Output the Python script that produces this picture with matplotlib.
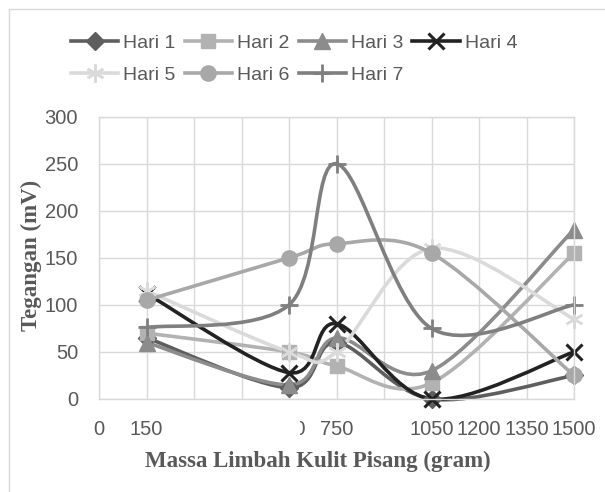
import matplotlib.pyplot as plt
from matplotlib.path import Path
from matplotlib.patches import PathPatch, Rectangle
from matplotlib.lines import Line2D

# Data
massa = [150, 600, 750, 1050, 1500]
hari_1 = [65, 12, 60, 0, 25]
hari_2 = [70, 50, 35, 17, 155]
hari_3 = [60, 15, 65, 30, 180]
hari_4 = [112, 28, 80, 0, 50]
hari_5 = [115, 50, 50, 160, 85]
hari_6 = [105, 150, 165, 155, 25]
hari_7 = [76, 100, 250, 75, 100]
labels = ["Hari 1", "Hari 2", "Hari 3", "Hari 4", "Hari 5", "Hari 6", "Hari 7"]
x_ticks = [0, 150, 300, 450, 600, 750, 900, 1050, 1200, 1350, 1500]
x_labels = ["0", "150", "", "", "600", "750", "", "1050", "1200", "1350", "1500"]
y_ticks = [0, 50, 100, 150, 200, 250, 300]

series = [hari_1, hari_2, hari_3, hari_4, hari_5, hari_6, hari_7]
colors = ["#5e5e5e", "#b2b2b2", "#8c8c8c", "#222222", "#dadada", "#a8a8a8", "#7f7f7f"]
markers = ["D", "s", "^", "x", (6, 2, 0), "o", "+"]
msizes = [9, 10, 11, 12, 13, 11, 13]
mews = [1, 1, 1, 2.2, 1.8, 1, 2]

TEXT = "#595959"
GRID = "#d9d9d9"
SANS = "Liberation Sans"
SERIF = "Liberation Serif"


def smooth_path(xs, ys):
    # Excel-like smoothed line: cubic Bezier through the points
    pts = list(zip(xs, ys))
    n = len(pts)
    verts = [pts[0]]
    codes = [Path.MOVETO]
    for i in range(n - 1):
        p0 = pts[i - 1] if i > 0 else pts[i]
        p1 = pts[i]
        p2 = pts[i + 1]
        p3 = pts[i + 2] if i + 2 < n else pts[i + 1]
        c1 = (p1[0] + (p2[0] - p0[0]) / 6, p1[1] + (p2[1] - p0[1]) / 6)
        c2 = (p2[0] - (p3[0] - p1[0]) / 6, p2[1] - (p3[1] - p1[1]) / 6)
        verts += [c1, c2, p2]
        codes += [Path.CURVE4] * 3
    return Path(verts, codes)


fig = plt.figure(figsize=(6.05, 4.92), dpi=100)
ax = fig.add_axes([99 / 605, 1 - 399 / 492, 475 / 605, (399 - 116.7) / 492])

# outer chart frame (only left and top edges visible)
fig.patches.append(Rectangle((9 / 605, -0.1), 1.2, 1.1 - 9 / 492, transform=fig.transFigure,
                             fill=False, ec=GRID, lw=1))

for ys, c, m, ms, mew in zip(series, colors, markers, msizes, mews):
    ax.add_patch(PathPatch(smooth_path(massa, ys), fill=False, ec=c, lw=2.6,
                           capstyle="round", joinstyle="round", clip_on=False))
    ax.plot(massa, ys, ls="none", marker=m, ms=ms, color=c, mec=c, mew=mew, clip_on=False)

ax.set_xlim(0, 1500)
ax.set_ylim(0, 300)
ax.set_xticks(x_ticks)
ax.set_xticklabels(x_labels)
ax.set_yticks(y_ticks)
ax.grid(True, color=GRID, lw=1)
ax.set_axisbelow(True)
for s in ax.spines.values():
    s.set_color(GRID)
    s.set_linewidth(1)
ax.tick_params(length=0, pad=15, labelsize=14.5, labelcolor=TEXT)
for t in ax.get_xticklabels() + ax.get_yticklabels():
    t.set_fontfamily(SANS)

# in the original most of the "600" label is hidden, only its last edge shows
ax.add_patch(Rectangle((480, -0.2), 155, 0.18, transform=ax.get_xaxis_transform(),
                       fc="white", ec="none", zorder=3, clip_on=False))

fig.text(318 / 605, 1 - 467 / 492, "Massa Limbah Kulit Pisang (gram)", ha="center", va="baseline",
         family=SERIF, weight="bold", size=16.5, color=TEXT)
fig.text(31 / 605, 1 - 255 / 492, "Tegangan (mV)", rotation=90, ha="center", va="center",
         family=SERIF, weight="bold", size=16.5, color=TEXT)

handles = [Line2D([], [], color=c, lw=2.6, marker=m, ms=ms, mec=c, mew=mew)
           for c, m, ms, mew in zip(colors, markers, msizes, mews)]
# legend fills column by column, so order the entries to read row by row
order = [0, 4, 1, 5, 2, 6, 3]
fig.legend([handles[i] for i in order], [labels[i] for i in order], ncol=4, loc="upper left",
           bbox_to_anchor=(71 / 605, 1 - 34 / 492),
           frameon=False, borderpad=0, borderaxespad=0, handlelength=2.42, handletextpad=0.26,
           columnspacing=0.48, labelspacing=0.75, labelcolor=TEXT,
           prop={"family": SANS, "size": 14})

fig.savefig("out.png", dpi=100)
